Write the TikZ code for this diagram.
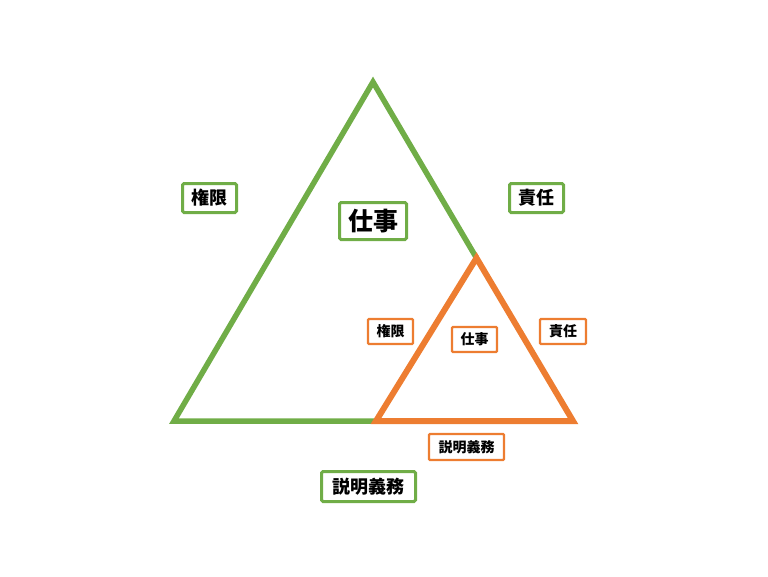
\documentclass[tikz,border=0pt]{standalone}
\usepackage{fontspec}
\setmainfont{Noto Sans CJK JP}
\usepackage{xcolor}
\definecolor{leafgreen}{HTML}{70AD47}
\definecolor{deeporange}{HTML}{ED7D31}
\usetikzlibrary{calc}

\begin{document}
\begin{tikzpicture}[x=1pt, y=-1pt,
		biglabel/.style={draw=leafgreen, line width=3pt, rounded corners=1.5pt, fill=white, inner sep=0pt, font=\fontsize{18}{20}\selectfont\bfseries},
		smalllabel/.style={draw=deeporange, line width=2.4pt, rounded corners=1pt, fill=white, inner sep=0pt, font=\fontsize{14}{16}\selectfont\bfseries}]
		\useasboundingbox (0,0) rectangle (768,576);

		% corners of the two triangles
		\coordinate (gtop) at (373,82);
		\coordinate (gleft) at (174,421);
		\coordinate (otop) at (476.5,258);
		\coordinate (oleft) at (376,421);
		\coordinate (oright) at (573,421);

		\draw [leafgreen, line width=5.5pt, line join=miter] (otop) -- (gtop) -- (gleft) -- (oleft);
		\draw [deeporange, line width=6pt, line join=miter] (otop) -- (oleft) -- (oright) -- cycle;

		% labels of the big triangle
		\node [biglabel, minimum width=54pt, minimum height=29pt] (gauth) at (209.5,198) {権限};
		\node [biglabel, minimum width=54pt, minimum height=29pt] (gresp) at (536.5,198) {責任};
		\node [biglabel, minimum width=67pt, minimum height=37pt, font=\fontsize{25}{28}\selectfont\bfseries] (gwork) at (373,221) {仕事};
		\node [biglabel, minimum width=94pt, minimum height=30pt] (gacc) at (368.5,486.5) {説明義務};

		% labels of the small triangle
		\node [smalllabel, minimum width=45pt, minimum height=25pt] (oauth) at (390.5,331.5) {権限};
		\node [smalllabel, minimum width=45pt, minimum height=25pt] (owork) at (474.5,339.5) {仕事};
		\node [smalllabel, minimum width=46pt, minimum height=25pt] (oresp) at (563,331.5) {責任};
		\node [smalllabel, minimum width=75pt, minimum height=26pt] (oacc) at (466.5,447) {説明義務};
	\end{tikzpicture}
\end{document}
